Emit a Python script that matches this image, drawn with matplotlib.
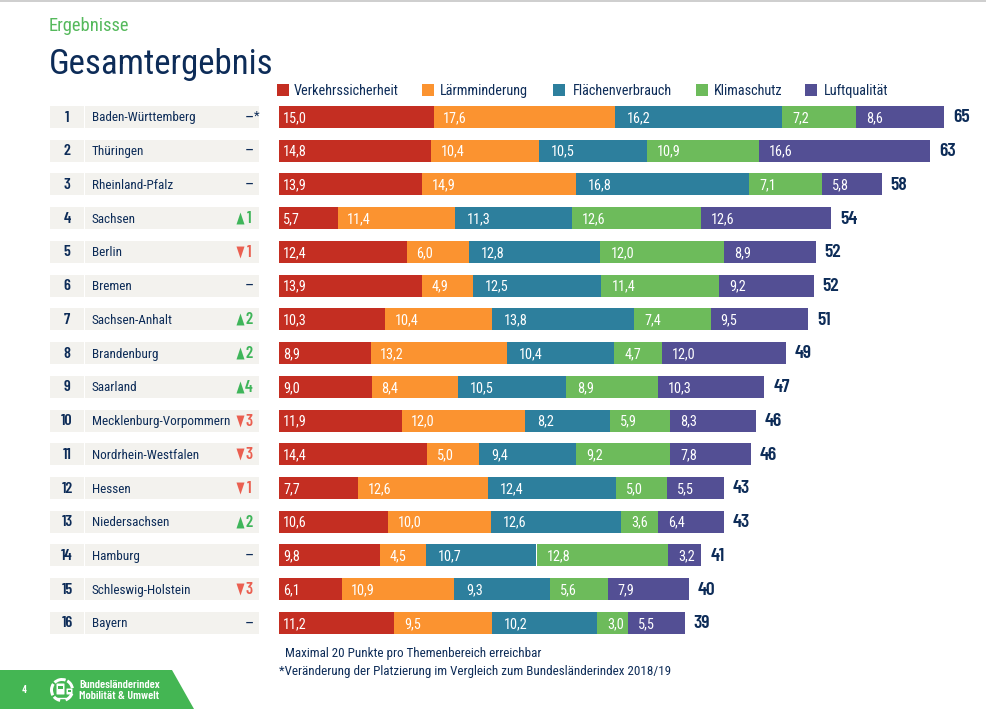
import matplotlib
matplotlib.use('agg')
import matplotlib.pyplot as plt
from matplotlib.patches import Rectangle, Polygon, Wedge, FancyBboxPatch
from matplotlib import font_manager as fm
import numpy as np

avail = {f.name for f in fm.fontManager.ttflist}
cond = [n for n in ['Roboto Condensed', 'Archivo Narrow', 'Barlow Condensed', 'Liberation Sans'] if n in avail]
plt.rcParams['font.family'] = cond + ['DejaVu Sans']
BOLD = [n for n in ['Barlow Condensed', 'Roboto Condensed', 'Liberation Sans'] if n in avail]

states = ['Baden-Württemberg', 'Thüringen', 'Rheinland-Pfalz', 'Sachsen', 'Berlin', 'Bremen',
          'Sachsen-Anhalt', 'Brandenburg', 'Saarland', 'Mecklenburg-Vorpommern',
          'Nordrhein-Westfalen', 'Hessen', 'Niedersachsen', 'Hamburg', 'Schleswig-Holstein', 'Bayern']
verkehr = [15.0, 14.8, 13.9, 5.7, 12.4, 13.9, 10.3, 8.9, 9.0, 11.9, 14.4, 7.7, 10.6, 9.8, 6.1, 11.2]
laerm = [17.6, 10.4, 14.9, 11.4, 6.0, 4.9, 10.4, 13.2, 8.4, 12.0, 5.0, 12.6, 10.0, 4.5, 10.9, 9.5]
flaeche = [16.2, 10.5, 16.8, 11.3, 12.8, 12.5, 13.8, 10.4, 10.5, 8.2, 9.4, 12.4, 12.6, 10.7, 9.3, 10.2]
klima = [7.2, 10.9, 7.1, 12.6, 12.0, 11.4, 7.4, 4.7, 8.9, 5.9, 9.2, 5.0, 3.6, 12.8, 5.6, 3.0]
luft = [8.6, 16.6, 5.8, 12.6, 8.9, 9.2, 9.5, 12.0, 10.3, 8.3, 7.8, 5.5, 6.4, 3.2, 7.9, 5.5]
totals = [65, 63, 58, 54, 52, 52, 51, 49, 47, 46, 46, 43, 43, 41, 40, 39]
# change in rank, 0 = no change
change = [0, 0, 0, 1, -1, 0, 2, 2, 4, -3, -3, -1, 2, 0, -3, 0]

series_names = ['Verkehrssicherheit', 'Lärmminderung', 'Flächenverbrauch', 'Klimaschutz', 'Luftqualität']
series_colors = ['#c42e22', '#fb9330', '#2d7f9d', '#6dbb5b', '#534f94']

NAVY = '#0d2c58'
GREY = '#f3f2ee'
W, H = 987, 710
PX = 10.3     # pixels per point
ROW0, ROWSTEP = 117.0, 33.73
UP = [(-0.67, -1), (0.67, -1), (0, 1)]
DOWN = [(-0.67, 1), (0.67, 1), (0, -1)]

fig = plt.figure(figsize=(W / 100, H / 100), dpi=100)
fig.set_facecolor('white')

# page layer in pixel coordinates
bg = fig.add_axes([0, 0, 1, 1])
bg.set_xlim(0, W)
bg.set_ylim(H, 0)
bg.axis('off')

bg.add_patch(Rectangle((0, 0), W, 1.5, color='#cfcfcf', lw=0))
bg.text(49, 26, 'Ergebnisse', color='#55b95c', fontsize=13.3, va='center', ha='left')
bg.text(49, 64.5, 'Gesamtergebnis', color=NAVY, fontsize=25.1, va='center', ha='left')

# legend
legend_sq = [277, 422, 553, 696, 805]
legend_tx = [294, 440, 573, 714, 824]
for name, col, sx, tx in zip(series_names, series_colors, legend_sq, legend_tx):
    bg.add_patch(Rectangle((sx, 84), 12, 12, color=col, lw=0))
    bg.text(tx, 91, name, color=NAVY, fontsize=10.3, va='center', ha='left')

# table on the left
for i, state in enumerate(states):
    y = ROW0 + i * ROWSTEP
    bg.add_patch(Rectangle((50, y - 11), 34, 22, color=GREY, lw=0))
    bg.add_patch(Rectangle((85, y - 11), 174, 22, color=GREY, lw=0))
    bg.text(67, y + 0.5, str(i + 1), color=NAVY, fontsize=11.5, family=BOLD, fontweight=600, va='center', ha='center')
    bg.text(92, y + 1, state, color=NAVY, fontsize=9.5, va='center', ha='left')
    c = change[i]
    if c == 0:
        bg.text(253.5, y + 1, '–', color=NAVY, fontsize=11.5, va='center', ha='right')
        if i == 0:
            bg.text(253.5, y - 1, '*', color=NAVY, fontsize=9.5, va='center', ha='left')
    else:
        col = '#3fb55a' if c > 0 else '#ea5f50'
        bg.plot([239.5], [y], marker=UP if c > 0 else DOWN, color=col, ms=8.6, mew=0, ls='none')
        bg.text(249, y + 0.5, str(abs(c)), color=col, fontsize=12, family=BOLD, fontweight=600, va='center', ha='center')

# bars
ax = fig.add_axes([279 / W, 0, (W - 279) / W, 1])
ax.set_xlim(0, (W - 279) / PX)
# ranks 1..16 mapped to their pixel rows
ax.set_ylim(1 + (H - ROW0) / ROWSTEP, 1 - ROW0 / ROWSTEP)
ax.axis('off')
ax.patch.set_alpha(0)

ranks = np.arange(1, len(states) + 1)
series = [verkehr, laerm, flaeche, klima, luft]
pad = [4, 9.5, 12, 10.5, 10]
left = np.zeros(len(states))
for vals, col, p in zip(series, series_colors, pad):
    vals = np.array(vals)
    ax.barh(ranks, vals, left=left, height=22 / ROWSTEP, color=col, lw=0)
    for r, l, v in zip(ranks, left, vals):
        ax.annotate(f'{v:.1f}'.replace('.', ','), (l, r), xytext=(p * 0.72, -0.7),
                    textcoords='offset points', color='white', fontsize=10.3, va='center', ha='left')
    left += vals
for r, l, t in zip(ranks, left, totals):
    ax.annotate(str(t), (l, r), xytext=(6.5, -0.6), textcoords='offset points', color=NAVY,
                fontsize=14, family=BOLD, fontweight=600, va='center', ha='left')

# notes
bg.text(285, 654, 'Maximal 20 Punkte pro Themenbereich erreichbar', color=NAVY, fontsize=9.4, va='center', ha='left')
bg.text(279, 672, '*Veränderung der Platzierung im Vergleich zum Bundesländerindex 2018/19', color=NAVY,
        fontsize=9.4, va='center', ha='left')

# footer
bg.add_patch(Polygon([(0, 670), (172, 670), (194, 709), (0, 709)], closed=True, color='#44b653', lw=0))
bg.text(24, 690, '4', color='white', fontsize=7, fontweight='bold', va='center', ha='center')
# logo: globe arcs with a train and a car
for a1, a2 in [(150, 215), (225, 290), (300, 350), (20, 70), (100, 140)]:
    bg.add_patch(Wedge((62, 690), 12, a1, a2, width=3, facecolor='white', edgecolor='none', zorder=3))
bg.add_patch(FancyBboxPatch((57, 684), 7, 10, boxstyle='round,pad=0.5', color='white', lw=0))
bg.add_patch(Rectangle((58, 686), 5, 3, color='#44b653', lw=0))
bg.plot([56, 65], [698, 698], color='white', lw=1)
bg.add_patch(FancyBboxPatch((67, 689), 5, 5, boxstyle='round,pad=0.5', color='white', lw=0))
bg.add_patch(Rectangle((68, 690), 3, 1.5, color='#44b653', lw=0))
bg.text(79, 685, 'Bundesländerindex', color='white', fontsize=8.6, family=BOLD, fontweight=600, va='center', ha='left')
bg.text(79, 696, 'Mobilität & Umwelt', color='white', fontsize=8.6, family=BOLD, fontweight=600, va='center', ha='left')

fig.savefig('out.png', dpi=100)
